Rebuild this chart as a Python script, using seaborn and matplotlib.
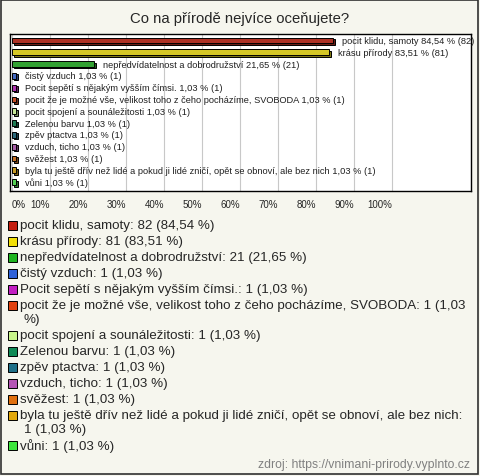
import numpy as np
import pandas as pd
import matplotlib
matplotlib.use('Agg')
import matplotlib.pyplot as plt
import matplotlib.patches as mpatches
import matplotlib.colors as mcolors
import seaborn as sns

title = 'Co na přírodě nejvíce oceňujete?'
categories = [
    'pocit klidu, samoty',
    'krásu přírody',
    'nepředvídatelnost a dobrodružství',
    'čistý vzduch',
    'Pocit sepětí s nějakým vyšším čímsi.',
    'pocit že je možné vše, velikost toho z čeho pocházíme, SVOBODA',
    'pocit spojení a sounáležitosti',
    'Zelenou barvu',
    'zpěv ptactva',
    'vzduch, ticho',
    'svěžest',
    'byla tu ještě dřív než lidé a pokud ji lidé zničí, opět se obnoví, ale bez nich',
    'vůni',
]
counts = [82, 81, 21, 1, 1, 1, 1, 1, 1, 1, 1, 1, 1]
percents = [84.54, 83.51, 21.65, 1.03, 1.03, 1.03, 1.03, 1.03, 1.03, 1.03, 1.03, 1.03, 1.03]
colors = ['#c41e0e', '#f2e008', '#1fb41f', '#2f62d8', '#c21ec2', '#e2420e',
          '#c8f58a', '#0f8a55', '#1f7088', '#b454b4', '#e0700e', '#e2a80a', '#3ee63e']
xticks = [0, 10, 20, 30, 40, 50, 60, 70, 80, 90, 100]
source = 'zdroj: https://vnimani-prirody.vyplnto.cz'

# čísla s desetinnou čárkou
def cz(v):
    return f'{v:.2f}'.replace('.', ',')

df = pd.DataFrame({'kategorie': categories, 'procenta': percents, 'pocet': counts})

sns.set_style('white')
plt.rcParams['font.family'] = ['Liberation Sans', 'DejaVu Sans']

bg = '#f6f6ee'
fig = plt.figure(figsize=(4.8, 4.77), dpi=100)
fig.patch.set_facecolor(bg)
W, H = 480, 477

# rámeček kolem celého obrázku
fig.patches.append(mpatches.Rectangle((1 / W, 2 / H), 477 / W, 474 / H, transform=fig.transFigure,
                                      fill=False, edgecolor='#303030', linewidth=1.2))

fig.text(0.5, 1 - 19 / H, title, ha='center', va='center', fontsize=10.7)

ax = fig.add_axes([10 / W, 1 - 192 / H, 461 / W, 157 / H])
ax.set_facecolor('white')
sns.barplot(data=df, y='kategorie', x='procenta', hue='kategorie', palette=colors,
            legend=False, orient='h', width=0.5, edgecolor='black', linewidth=0.7, ax=ax)

# jednoduchy 3D stin pod sloupci
for bar in list(ax.patches):
    fc = np.array(mcolors.to_rgb(bar.get_facecolor())) * 0.6
    sh = mpatches.Rectangle((bar.get_x() + 0.5, bar.get_y() + 0.12), bar.get_width(), bar.get_height(),
                            facecolor=fc, edgecolor='black', linewidth=0.7, zorder=bar.get_zorder() - 0.1)
    ax.add_patch(sh)

for i, (c, p, n) in enumerate(zip(categories, percents, counts)):
    ax.text(p + 2.4, i, f'{c} {cz(p)} % ({n})', va='center', ha='left', fontsize=6.7,
            color='#202020', clip_on=False)

ax.set_xlim(-0.5, 120.8)
ax.set_ylim(12.75, -0.55)
ax.set_xticks(xticks)
ax.set_xticklabels([f'{t}%' for t in xticks], fontsize=7)
for lab in ax.get_xticklabels():
    lab.set_ha('right')
ax.get_xticklabels()[0].set_ha('left')
ax.tick_params(axis='x', length=0, pad=6)
ax.set_yticks([])
ax.set_xlabel('')
ax.set_ylabel('')
ax.grid(axis='x', color='#c8c8c8', linewidth=0.8)
ax.set_axisbelow(True)
for s in ax.spines.values():
    s.set_visible(True)
    s.set_color('black')
    s.set_linewidth(1.0)

# legenda - zalamovani podle sirky v pixelech
renderer = fig.canvas.get_renderer()
max_right = 472


def text_width(s, size):
    t = fig.text(0, 0, s, fontsize=size)
    w = t.get_window_extent(renderer=renderer).width
    t.remove()
    return w


leg_size = 9.6
y = 226
for c, p, n, col in zip(categories, percents, counts, colors):
    fig.patches.append(mpatches.Rectangle((8 / W, 1 - (y + 4.5) / H), 9 / W, 9 / H,
                                          transform=fig.transFigure, facecolor=col,
                                          edgecolor='black', linewidth=0.7))
    words = f'{c}: {n} ({cz(p)} %)'.split(' ')
    lines, cur = [], ''
    for w in words:
        cand = w if not cur else cur + ' ' + w
        if cur and 20 + text_width(cand, leg_size) > max_right:
            lines.append(cur)
            cur = w
        else:
            cur = cand
    lines.append(cur)
    for k, line in enumerate(lines):
        fig.text((20 if k == 0 else 24) / W, 1 - y / H, line, ha='left', va='center',
                 fontsize=leg_size)
        y += 16 if k == len(lines) - 1 else 14

fig.text(1 - 10 / W, 1 - 465 / H, source, ha='right', va='center', fontsize=8.8, color='#808080')

fig.savefig('out.png', dpi=100, facecolor=bg)
